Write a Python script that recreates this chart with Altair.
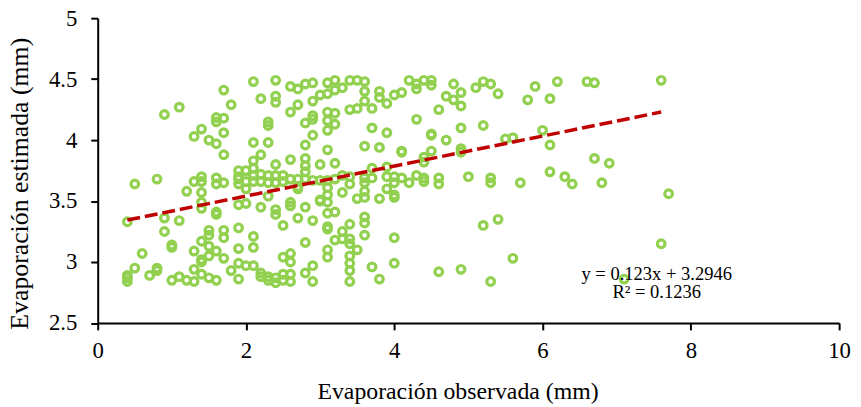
import altair as alt
import pandas as pd

obs_columns = [0.4,0.5,0.6,0.7,0.8,0.9,1.0,1.1,1.2,1.3,1.4,1.5,1.6,1.7,1.8,1.9,2.0,2.1,2.2,2.3,2.4,2.5,2.6,2.7,2.8,2.9,
               3.0,3.1,3.2,3.3,3.4,3.5,3.6,3.7,3.8,3.9,4.0,4.1,4.2,4.3,4.4,4.5,4.6,4.7,4.8,4.9,5.0,5.1,5.2,5.3,5.4,5.5,
               5.6,5.7,5.8,5.9,6.0,6.1,6.2,6.3,6.4,6.6,6.7,6.8,6.9,7.1,7.6,7.7]
est_columns = [
    [3.33,2.89,2.87,2.84],[3.64,2.95],[3.07],[2.89],[3.68,2.95,2.93],[4.21,3.36,3.25],[3.14,3.12,2.85],
    [4.27,3.34,2.88],[3.58,2.85],[4.03,3.66,3.09,2.94,2.84],[4.09,3.70,3.66,3.57,3.49,3.44,3.17,3.02,3.00,2.90],
    [4.00,3.26,3.22,3.13,3.05,2.87],[4.185,4.15,3.97,3.69,3.64,3.41,3.39,3.09,2.85],
    [4.41,4.18,4.06,3.88,3.65,3.26,3.20,3.03],[4.29,2.93],[3.75,3.70,3.68,3.64,3.47,3.28,3.11,2.99,2.86],
    [3.75,3.66,3.60,3.48,2.97],[4.48,3.98,3.83,3.77,3.71,3.66,3.21,3.12,2.97],[4.34,3.88,3.72,3.66,3.45,2.91,2.88],
    [4.15,4.12,3.98,3.71,3.65,3.54,2.88,2.85],[4.49,4.36,4.31,3.80,3.71,3.65,3.43,3.39,2.87,2.83],
    [3.71,3.66,3.30,3.04,2.90,2.85],[4.44,4.23,3.84,3.68,3.49,3.46,3.07,3.00,2.90,2.84],[4.42,4.29,3.68,3.62,3.60,3.36],
    [4.46,4.14,3.96,3.85,3.79,3.74,3.68,3.45,3.16,2.91],[4.47,4.32,4.20,4.17,4.04,3.67,3.34,2.97,2.84],
    [4.37,3.80,3.67,3.51,3.50],[4.47,4.38,4.23,4.16,4.08,3.92,3.67,3.61,3.55,3.49,3.40,3.29,3.27,3.10,3.04],
    [4.49,4.41,4.22,4.13,3.81,3.68,3.41,3.18],[4.43,3.71,3.57,3.25,3.19],
    [4.49,4.25,3.70,3.64,3.31,3.19,3.15,3.05,2.99,2.93,2.84],[4.49,4.26,3.52,3.10],
    [4.48,4.40,4.32,3.95,3.69,3.65,3.58,3.53,3.37,3.32,3.22],[4.26,4.10,3.77,3.69,2.96],[4.40,4.35,3.94,3.52,2.86],
    [4.30,4.06,3.78,3.70,3.60],[4.37,3.70,3.65,3.55,3.53,3.20,2.99],[4.39,3.91,3.90,3.69],[4.49,3.65],
    [4.46,4.42,4.17,3.71],[4.49,3.86,3.82,3.69,3.66],[4.49,4.45,4.05,4.04,3.91],[4.25,3.69,3.64,2.92],[4.36,4.00],
    [4.46,4.33],[4.39,4.28,4.10,3.93,3.90,2.94],[3.70],[4.43],[4.48,4.12,3.30],[4.46,3.69,3.65,2.84],[4.38,3.35],
    [4.01],[4.02,3.03],[3.65],[4.33],[4.44],[4.08],[4.34,3.96,3.74],[4.48],[3.70],[3.64],[4.48],[4.47,3.85],[3.65],
    [3.81],[2.86],[4.49,3.15],[3.56],
]
trend_x = [0.4, 7.6]
trend_y = [3.344, 4.23]
label_x = [7.54, 7.54]
label_y = [2.905, 2.755]
label_text = ["y = 0.123x + 3.2946", "R\u00b2 = 0.1236"]
x_ticks = [0, 2, 4, 6, 8, 10]
y_ticks = [2.5, 3, 3.5, 4, 4.5, 5]

points = pd.DataFrame(
    [{"x": x, "y": y} for x, ys in zip(obs_columns, est_columns) for y in ys]
)
trend = pd.DataFrame({"x": trend_x, "y": trend_y})
labels = pd.DataFrame({"x": label_x, "y": label_y, "t": label_text})

FONT = "Liberation Serif"
x_scale = alt.Scale(domain=[0, 10], nice=False, zero=False)
y_scale = alt.Scale(domain=[2.5, 5], nice=False, zero=False)

pts = alt.Chart(points).mark_point(
    shape="circle", size=60, filled=False, stroke="#92d050", strokeWidth=3.2, opacity=1
).encode(
    x=alt.X("x:Q", scale=x_scale, axis=alt.Axis(
        values=x_ticks, title="Evaporación observada (mm)", grid=False, format="d",
        titleFont=FONT, titleFontSize=24, titleFontWeight="normal", titleColor="#000000",
        labelFont=FONT, labelFontSize=23, labelColor="#000000", labelPadding=10, labelFlush=False,
        domainColor="#000000", domainWidth=2, tickColor="#000000", tickWidth=2, tickSize=7,
        titleX=363, titleY=57, labelOverlap=False)),
    y=alt.Y("y:Q", scale=y_scale, axis=alt.Axis(
        values=y_ticks, title="Evaporación estimada (mm)", grid=False, format="~g",
        titleFont=FONT, titleFontSize=26, titleFontWeight="normal", titleColor="#000000",
        labelFont=FONT, labelFontSize=23, labelColor="#000000", labelPadding=14, labelFlush=False,
        domainColor="#000000", domainWidth=2, tickColor="#000000", tickWidth=2, tickSize=7,
        titleX=-66, titleY=166.5, labelOverlap=False)),
)
line = alt.Chart(trend).mark_line(color="#c00000", strokeWidth=3.5, strokeDash=[13, 5]).encode(
    x=alt.X("x:Q", scale=x_scale), y=alt.Y("y:Q", scale=y_scale)
)
text = alt.Chart(labels).mark_text(font=FONT, fontSize=18.7, color="#000000", align="center", baseline="middle").encode(
    x=alt.X("x:Q", scale=x_scale), y=alt.Y("y:Q", scale=y_scale), text="t:N"
)

chart = (pts + line + text).properties(
    width=748, height=307.5,
    padding={"left": 90.5, "top": 8.5, "right": 14, "bottom": 82},
    autosize=alt.AutoSizeParams(type="none"),
    background="white",
).configure_view(stroke=None)

chart.save("out.html", embed_options={"renderer": "svg", "actions": False})
